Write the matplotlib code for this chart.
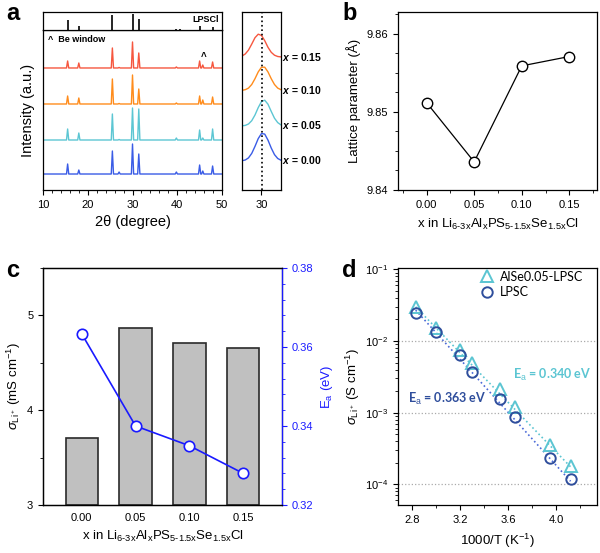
import matplotlib
matplotlib.use("Agg")
import matplotlib.pyplot as plt
import matplotlib.ticker as mticker
import numpy as np

plt.rcParams["font.family"] = ["Liberation Sans", "DejaVu Sans"]
plt.rcParams["mathtext.fontset"] = "custom"
plt.rcParams["mathtext.rm"] = "Liberation Sans"
plt.rcParams["mathtext.it"] = "Liberation Sans:italic"
plt.rcParams["mathtext.bfit"] = "Liberation Sans:italic:bold"
plt.rcParams["xtick.direction"] = "out"
plt.rcParams["ytick.direction"] = "out"
plt.rcParams["xtick.major.size"] = 3.5
plt.rcParams["ytick.major.size"] = 3.5
plt.rcParams["xtick.minor.size"] = 2
plt.rcParams["ytick.minor.size"] = 2
plt.rcParams["axes.linewidth"] = 0.9

# ---- panel a: XRD ----
peak_pos = [15.5, 18.0, 25.5, 27.0, 30.0, 31.4, 39.8, 45.0, 45.7, 47.9]
xrd_labels = ["0.15", "0.10", "0.05", "0.00"]
xrd_colors = ["#f6573f", "#ff8c1c", "#5cc6d3", "#3a5ce6"]
xrd_base = [122, 86, 50, 16]
xrd_heights = [
    [7, 5, 20, 0.5, 26, 15, 1, 7, 3, 6],
    [8, 6, 25, 0.5, 29, 15, 1, 8, 4, 7],
    [11, 7, 26, 0.5, 32, 31, 2, 10, 2, 11],
    [10, 4, 23, 2, 30, 20, 2, 9, 3, 8],
]
ref_pos = [15.6, 18.0, 25.5, 30.0, 31.4, 39.8, 40.6, 45.0, 47.9]
ref_height = [10, 4, 15, 16, 11, 1, 1, 4, 3]

# zoomed (200) peak around 30 deg
zoom_x = [28.8, 29.0, 29.2, 29.4, 29.6, 29.8, 30.0, 30.2, 30.4, 30.6, 30.8, 31.0, 31.2]
zoom_y = [
    [122.0, 124.0, 127.9, 133.9, 140.3, 143.8, 142.6, 137.3, 130.7, 125.7, 122.8, 121.5, 121.1],
    [87.7, 88.3, 89.9, 93.5, 99.3, 106.1, 110.8, 110.8, 106.1, 99.3, 93.5, 89.9, 88.3],
    [52.2, 52.6, 54.0, 57.3, 63.0, 70.4, 76.4, 77.8, 73.8, 66.6, 59.8, 55.4, 53.1],
    [17.3, 18.0, 20.1, 24.6, 31.6, 39.4, 44.5, 43.9, 37.9, 30.0, 23.4, 19.5, 17.8],
]
zoom_ref = 30.05

# ---- panel b: lattice parameter ----
x_comp = [0.00, 0.05, 0.10, 0.15]
lattice = [9.8512, 9.8436, 9.8559, 9.8571]

# ---- panel c: conductivity and Ea ----
sigma_rt = [3.71, 4.87, 4.71, 4.66]
ea = [0.3633, 0.340, 0.335, 0.328]

# ---- panel d: Arrhenius ----
inv_t = [2.83, 3.00, 3.20, 3.30, 3.53, 3.66, 3.95, 4.12]
sigma_alse = [2.96e-2, 1.51e-2, 7.48e-3, 4.98e-3, 2.11e-3, 1.18e-3, 3.51e-4, 1.79e-4]
sigma_lpsc = [2.49e-2, 1.35e-2, 6.37e-3, 3.73e-3, 1.53e-3, 8.57e-4, 2.36e-4, 1.20e-4]
fit_x = [2.83, 4.12]
fit_alse = [3.0e-2, 1.75e-4]
fit_lpsc = [2.7e-2, 1.1e-4]

comp_label = r"x in Li$_{\text{6-3x}}$Al$_{\text{x}}$PS$_{\text{5-1.5x}}$Se$_{\text{1.5x}}$Cl"

fig = plt.figure(figsize=(6, 5.53), dpi=100)

# panel a main
ax_a = fig.add_axes([0.0717, 0.6564, 0.2983, 0.2894])
for base, hts, col in zip(xrd_base, xrd_heights, xrd_colors):
    xs = [10]
    ys = [base]
    for p, h in zip(peak_pos, hts):
        xs += [p - 0.25, p, p + 0.25]
        ys += [base, base + h, base]
    xs.append(50)
    ys.append(base)
    ax_a.plot(xs, ys, color=col, lw=1.0)
ax_a.set_xlim(10, 50)
ax_a.set_ylim(0, 160)
ax_a.set_yticks([])
ax_a.xaxis.set_major_locator(mticker.MultipleLocator(10))
ax_a.xaxis.set_minor_locator(mticker.MultipleLocator(2))
ax_a.tick_params(labelsize=8)
ax_a.set_xlabel("2θ (degree)", fontsize=10.5, labelpad=4)
ax_a.set_ylabel("Intensity (a.u.)", fontsize=10.5, labelpad=6)
ax_a.text(0.03, 0.94, "^  Be window", transform=ax_a.transAxes, fontsize=6.5,
          fontweight="bold", va="center")
ax_a.text(45.8, 128, "^", fontsize=7, fontweight="bold", ha="center", va="bottom")

ax_ref = fig.add_axes([0.0717, 0.9458, 0.2983, 0.0325])
ax_ref.vlines(ref_pos, 0, ref_height, color="black", lw=1.2)
ax_ref.set_xlim(10, 50)
ax_ref.set_ylim(0, 18)
ax_ref.set_xticks([])
ax_ref.set_yticks([])
ax_ref.text(0.98, 0.6, "LPSCl", transform=ax_ref.transAxes, fontsize=6.5,
            fontweight="bold", ha="right", va="center")

ax_in = fig.add_axes([0.4033, 0.6564, 0.065, 0.3219])
for ys, col, lab in zip(zoom_y, xrd_colors, xrd_labels):
    ax_in.plot(zoom_x, ys, color=col, lw=1.0)
    ax_in.text(1.03, (ys[-1] + 12) / 178, r"$\mathbfit{x}$ = " + lab,
               transform=ax_in.transAxes, fontsize=7.5, fontweight="bold",
               va="center", ha="left")
ax_in.axvline(zoom_ref, color="black", ls=":", lw=1.2)
ax_in.set_xlim(28.8, 31.2)
ax_in.set_ylim(-12, 166)
ax_in.set_xticks([30])
ax_in.set_yticks([])
ax_in.tick_params(labelsize=8)

# panel b
ax_b = fig.add_axes([0.6633, 0.6564, 0.3317, 0.3219])
ax_b.plot(x_comp, lattice, color="black", lw=0.9, marker="o", ms=7.5,
          mfc="white", mec="black", mew=1.0)
ax_b.set_xlim(-0.03, 0.179)
ax_b.set_ylim(9.84, 9.8628)
ax_b.set_xticks(x_comp)
ax_b.set_xticklabels(["0.00", "0.05", "0.10", "0.15"])
ax_b.xaxis.set_minor_locator(mticker.MultipleLocator(0.025))
ax_b.yaxis.set_major_locator(mticker.MultipleLocator(0.01))
ax_b.yaxis.set_minor_locator(mticker.MultipleLocator(0.0025))
ax_b.yaxis.set_major_formatter(mticker.FormatStrFormatter("%.2f"))
ax_b.tick_params(labelsize=8)
ax_b.set_xlabel(comp_label, fontsize=9.5, labelpad=5)
ax_b.set_ylabel("Lattice parameter (Å)", fontsize=9.5, labelpad=4)

# panel c
ax_c = fig.add_axes([0.0717, 0.0868, 0.3983, 0.4286])
ax_c.bar(x_comp, [s - 3 for s in sigma_rt], bottom=3, width=0.03,
         color="#c0c0c0", edgecolor="#2a2a2a", lw=1.2)
ax_c.set_xlim(-0.036, 0.186)
ax_c.set_ylim(3, 5.5)
ax_c.set_xticks(x_comp)
ax_c.set_xticklabels(["0.00", "0.05", "0.10", "0.15"])
ax_c.yaxis.set_major_locator(mticker.MultipleLocator(1))
ax_c.yaxis.set_minor_locator(mticker.MultipleLocator(0.5))
ax_c.tick_params(labelsize=8)
ax_c.tick_params(axis="x", which="both", length=0, pad=6)
ax_c.set_xlabel(comp_label, fontsize=9.5, labelpad=4)
ax_c.set_ylabel(r"$\sigma_{\mathrm{Li^+}}$ (mS cm$^{-1}$)", fontsize=9.5, labelpad=3)

ax_c2 = ax_c.twinx()
ax_c2.plot(x_comp, ea, color="#1a1aff", lw=1.2, marker="o", ms=7.5,
           mfc="white", mec="#1a1aff", mew=1.2)
ax_c2.set_ylim(0.32, 0.38)
ax_c2.yaxis.set_major_locator(mticker.MultipleLocator(0.02))
ax_c2.yaxis.set_minor_locator(mticker.MultipleLocator(0.004))
ax_c2.yaxis.set_major_formatter(mticker.FormatStrFormatter("%.2f"))
ax_c2.tick_params(axis="y", which="both", colors="#1a1aff", labelsize=8)
ax_c2.spines["right"].set_color("#1a1aff")
ax_c2.set_ylabel(r"E$_\mathrm{a}$ (eV)", fontsize=9.5, color="#1a1aff", labelpad=4)

# panel d
c_alse = "#5bc5d2"
c_lpsc = "#2f4e9c"
ax_d = fig.add_axes([0.6633, 0.0868, 0.3317, 0.4286])
ax_d.set_yscale("log")
for yv in [1e-2, 1e-3, 1e-4]:
    ax_d.axhline(yv, color="#aaaaaa", ls=":", lw=0.9, zorder=0)
ax_d.plot(fit_x, fit_alse, color=c_alse, ls=":", lw=1.2)
ax_d.plot(fit_x, fit_lpsc, color="#4a6ad8", ls=":", lw=1.2)
ax_d.plot(inv_t, sigma_alse, ls="none", marker="^", ms=9, mfc="none",
          mec=c_alse, mew=1.4, label="AlSe0.05-LPSC")
ax_d.plot(inv_t, sigma_lpsc, ls="none", marker="o", ms=7.5, mfc="none",
          mec=c_lpsc, mew=1.4, label="LPSC")
ax_d.set_xlim(2.683, 4.34)
ax_d.set_ylim(10 ** -4.29, 10 ** -0.98)
ax_d.xaxis.set_major_locator(mticker.MultipleLocator(0.4))
ax_d.xaxis.set_minor_locator(mticker.MultipleLocator(0.2))
ax_d.xaxis.set_major_formatter(mticker.FormatStrFormatter("%.1f"))
ax_d.yaxis.set_minor_locator(mticker.LogLocator(base=10, subs=np.arange(2, 10) * 1.0))
ax_d.yaxis.set_minor_formatter(mticker.NullFormatter())
ax_d.tick_params(labelsize=8)
ax_d.set_xlabel(r"1000/T (K$^{-1}$)", fontsize=9.5, labelpad=5)
ax_d.set_ylabel(r"$\sigma_{\mathrm{Li^+}}$ (S cm$^{-1}$)", fontsize=9.5, labelpad=2)
ax_d.legend(loc="upper left", bbox_to_anchor=(0.38, 1.02), frameon=False,
            handlelength=1.0, handletextpad=0.5, borderaxespad=0.2,
            labelspacing=0.3, prop={"family": "Lato", "size": 9})
ax_d.text(3.64, 3.34e-3, r"E$_\mathrm{a}$ = 0.340 eV", color=c_alse, fontsize=9,
          fontweight="bold", family="Lato", va="center")
ax_d.text(2.77, 1.55e-3, r"E$_\mathrm{a}$ = 0.363 eV", color=c_lpsc, fontsize=9,
          fontweight="bold", family="Lato", va="center")

for lbl, (fx, fy) in zip("abcd", [(0.01, 0.975), (0.57, 0.975), (0.01, 0.51), (0.57, 0.51)]):
    fig.text(fx, fy, lbl, fontsize=17, fontweight="bold", va="center")

fig.savefig("out.png", dpi=100)
